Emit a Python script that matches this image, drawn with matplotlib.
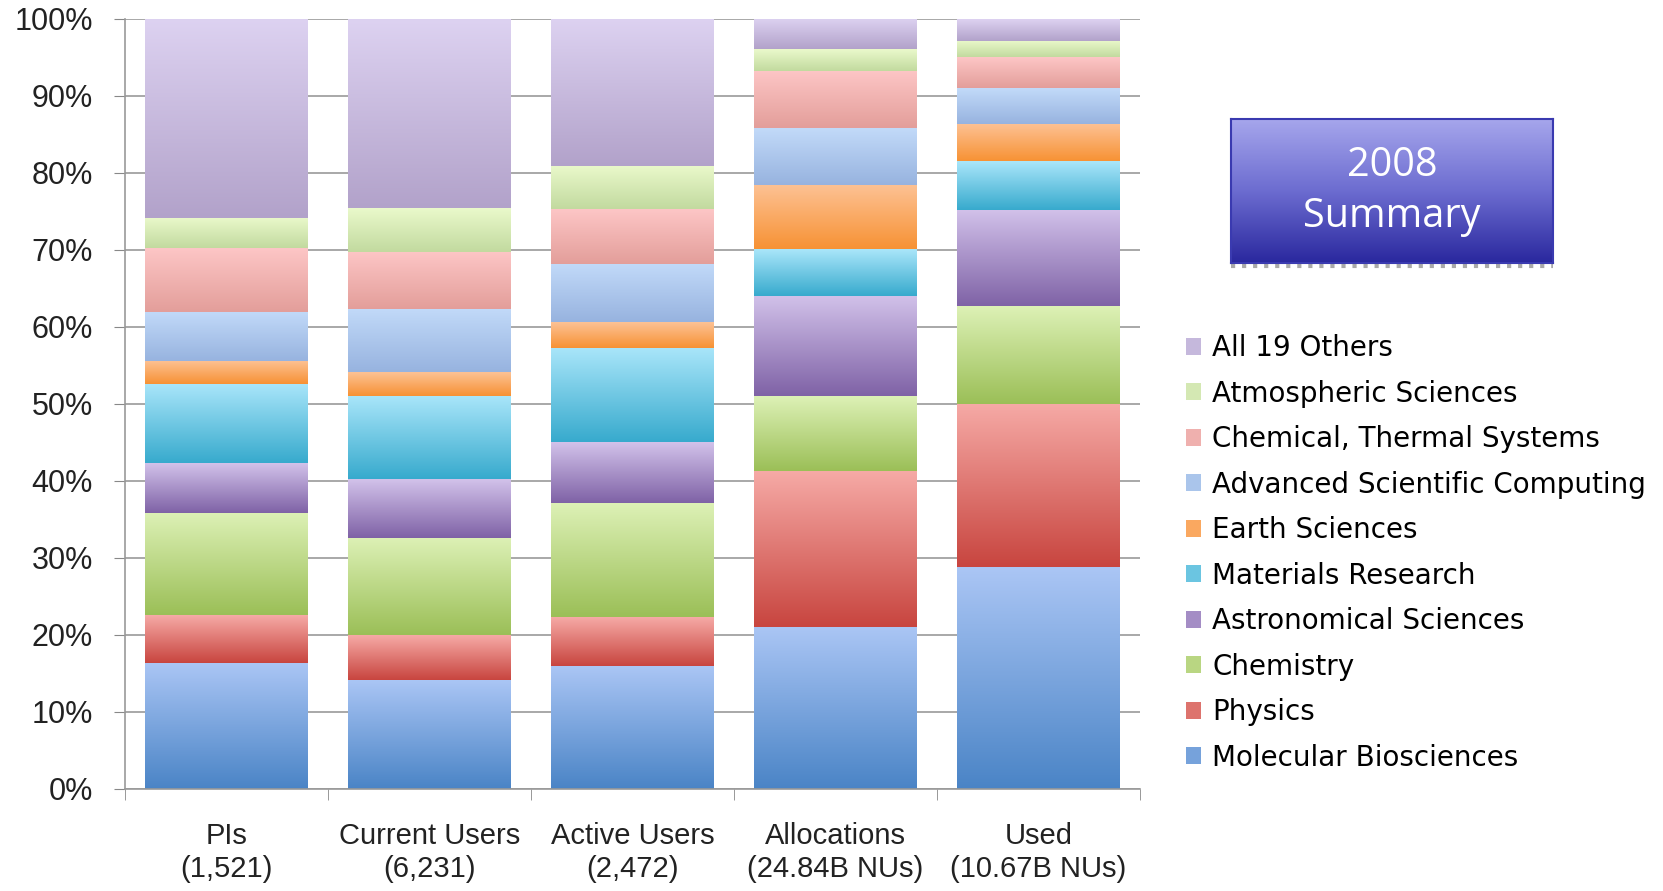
import numpy as np
import matplotlib
matplotlib.use("Agg")
import matplotlib.pyplot as plt
from matplotlib.colors import LinearSegmentedColormap
from matplotlib.patches import Patch

categories = ["PIs\n(1,521)", "Current Users\n(6,231)", "Active Users\n(2,472)",
              "Allocations\n(24.84B NUs)", "Used\n(10.67B NUs)"]

series = ["Molecular Biosciences", "Physics", "Chemistry", "Astronomical Sciences",
          "Materials Research", "Earth Sciences", "Advanced Scientific Computing",
          "Chemical, Thermal Systems", "Atmospheric Sciences", "All 19 Others"]

# shares in percent, one list per series (PIs, Current, Active, Allocations, Used)
mol_bio = [16.4, 14.2, 16.0, 21.1, 28.8]
physics = [6.2, 5.8, 6.3, 20.2, 21.2]
chemistry = [13.3, 12.6, 14.8, 9.7, 12.7]
astronomy = [6.4, 7.6, 7.9, 13.0, 12.5]
materials = [10.3, 10.8, 12.3, 6.1, 6.3]
earth = [3.0, 3.1, 3.3, 8.4, 4.9]
asc = [6.4, 8.2, 7.6, 7.3, 4.6]
chem_thermal = [8.2, 7.5, 7.1, 7.5, 4.0]
atmospheric = [3.9, 5.7, 5.6, 2.8, 2.2]
others = [25.9, 24.5, 19.1, 3.9, 2.8]

values = [mol_bio, physics, chemistry, astronomy, materials, earth, asc,
          chem_thermal, atmospheric, others]

# (top colour, bottom colour) of each gradient
shades = [("#abc6f5", "#4a84c6"), ("#f6aaa6", "#c8453f"), ("#ddf1b6", "#9bbf57"),
          ("#d2c2ea", "#7f62a6"), ("#aae6fa", "#37aacd"), ("#fdc295", "#f79234"),
          ("#c2daf9", "#97b3df"), ("#fdc6c6", "#e39e9a"), ("#eaf9cb", "#c2da9f"),
          ("#ddd2f1", "#b2a2ca")]

tick_font = ["Liberation Sans", "DejaVu Sans"]

fig = plt.figure(figsize=(16.63, 8.91), dpi=100)
ax = fig.add_axes([0.0752, 0.1145, 0.6103, 0.8642])

x = np.arange(len(categories))
bottom = np.zeros(len(categories))
grad = np.linspace(1, 0, 256).reshape(-1, 1)
for vals, (top_c, bot_c) in zip(values, shades):
    bars = ax.bar(x, vals, 0.8, bottom=bottom, color="none", edgecolor="none", zorder=2)
    cmap = LinearSegmentedColormap.from_list("g", [bot_c, top_c])
    for b in bars:
        x0, y0 = b.get_x(), b.get_y()
        im = ax.imshow(grad, cmap=cmap, aspect="auto", vmin=0, vmax=1,
                       extent=[x0, x0 + b.get_width(), y0, y0 + b.get_height()],
                       zorder=2, interpolation="bilinear")
        im.set_clip_path(b)
    bottom += np.array(vals)

ax.set_xlim(-0.5, 4.5)
ax.set_ylim(0, 100)
ax.set_yticks(np.arange(0, 101, 10))
ax.set_yticklabels(["%d%%" % v for v in range(0, 101, 10)],
                   family=tick_font, fontsize=22, color="#222222")
ax.set_xticks(x)
ax.set_xticklabels(categories, family=tick_font, fontsize=21, color="#222222",
                   linespacing=1.2)
ax.set_xticks(np.arange(-0.5, 5, 1), minor=True)
ax.tick_params(axis="x", which="major", length=0, pad=24)
ax.tick_params(axis="x", which="minor", length=8, color="#888888", direction="out")
ax.tick_params(axis="y", length=8, color="#888888", direction="out", pad=15)
ax.grid(axis="y", color="#999999", linewidth=1.2, zorder=0)
ax.set_axisbelow(True)
for s in ["top", "right"]:
    ax.spines[s].set_visible(False)
for s in ["left", "bottom"]:
    ax.spines[s].set_color("#999999")
    ax.spines[s].set_linewidth(1.2)

handles = [Patch(facecolor=LinearSegmentedColormap.from_list("m", [shades[i][1], shades[i][0]])(0.45),
                 edgecolor="none", label=series[i]) for i in range(len(series))][::-1]
fig.legend(handles=handles, loc="upper left", bbox_to_anchor=(0.698, 0.653),
           frameon=False, handlelength=0.55, handleheight=0.55,
           handletextpad=0.4, labelspacing=0.63,
           prop={"family": "DejaVu Sans", "size": 20})

# title box
tax = fig.add_axes([0.7402, 0.7048, 0.1936, 0.1616])
tcmap = LinearSegmentedColormap.from_list("t", ["#2a289e", "#6c6cd0", "#a6a6ec"])
tax.imshow(grad, cmap=tcmap, aspect="auto", extent=[0, 1, 0, 1], vmin=0, vmax=1)
tax.set_xlim(0, 1)
tax.set_ylim(0, 1)
tax.set_xticks([])
tax.set_yticks([])
for s in tax.spines.values():
    s.set_color("#3a3ab0")
    s.set_linewidth(1.5)
tax.text(0.5, 0.5, "2008\nSummary", color="white", fontsize=28.5, ha="center",
         va="center", linespacing=1.35, family="Open Sans")
tax.plot([0, 1], [-0.02, -0.02], color="#aaaaaa", linewidth=3, linestyle=":",
         clip_on=False)

fig.savefig("out.png", dpi=100)
